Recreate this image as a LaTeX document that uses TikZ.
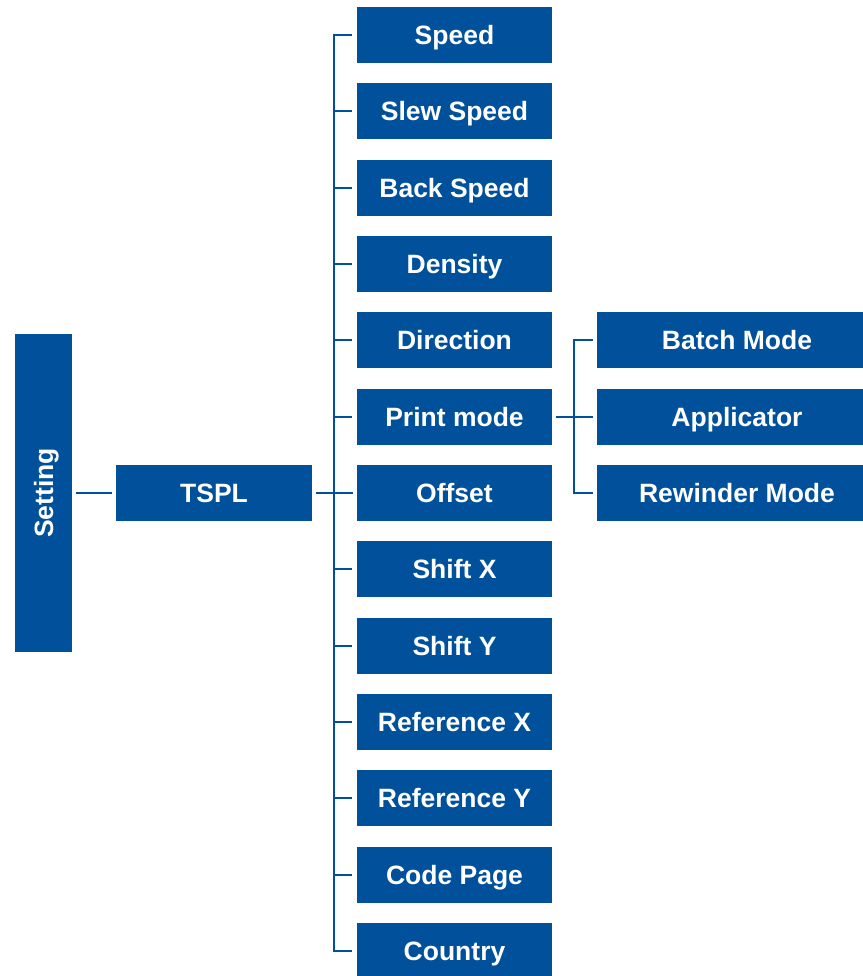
\documentclass[tikz,border=0pt]{standalone}
\usepackage{fontspec}
\setmainfont{Liberation Sans}
\usetikzlibrary{positioning,calc}

\definecolor{tscblue}{RGB}{0,80,155}

\begin{document}
\begin{tikzpicture}[x=1pt,y=-1pt,
  box/.style={fill=tscblue, text=white, font=\fontsize{26.5}{30}\bfseries\selectfont,
    minimum width=195pt, minimum height=56pt, inner sep=0pt, text height=19pt, text depth=0pt},
  wide/.style={box, minimum width=280pt},
  wire/.style={draw=tscblue, line width=2.2pt}]

\useasboundingbox (0,0) rectangle (862,976);

\node[box, minimum width=318pt, minimum height=57pt, rotate=90] (setting) at (43.5,493) {Setting};
\node[box, minimum width=196pt] (tspl) at (214,493) {TSPL};

\node[box] (speed) at (454.5,35) {Speed};
\node[box] (slew) at (454.5,111.33) {Slew Speed};
\node[box] (back) at (454.5,187.67) {Back Speed};
\node[box] (density) at (454.5,264) {Density};
\node[box] (direction) at (454.5,340.33) {Direction};
\node[box] (print) at (454.5,416.67) {Print mode};
\node[box] (offset) at (454.5,493) {Offset};
\node[box] (shiftx) at (454.5,569.33) {Shift X};
\node[box] (shifty) at (454.5,645.67) {Shift Y};
\node[box] (refx) at (454.5,722) {Reference X};
\node[box] (refy) at (454.5,798.33) {Reference Y};
\node[box] (codepage) at (454.5,874.67) {Code Page};
\node[box] (country) at (454.5,951) {Country};

\node[wide] (batch) at (737,340.33) {Batch Mode};
\node[wide] (applicator) at (737,416.67) {Applicator};
\node[wide] (rewinder) at (737,493) {Rewinder Mode};

% setting -> tspl -> bus
\draw[wire] ([xshift=4pt]setting.south) -- ([xshift=-4pt]tspl.west);
\draw[wire] ([xshift=4pt]tspl.east) -- ([xshift=-4pt]offset.west);

% main bus
\draw[wire] ([xshift=-5pt]speed.west) -- ++(-18,0) |- ([xshift=-5pt]country.west);
\draw[wire] ([xshift=-5pt]slew.west) -- ++(-18,0);
\draw[wire] ([xshift=-5pt]back.west) -- ++(-18,0);
\draw[wire] ([xshift=-5pt]density.west) -- ++(-18,0);
\draw[wire] ([xshift=-5pt]direction.west) -- ++(-18,0);
\draw[wire] ([xshift=-5pt]print.west) -- ++(-18,0);
\draw[wire] ([xshift=-5pt]shiftx.west) -- ++(-18,0);
\draw[wire] ([xshift=-5pt]shifty.west) -- ++(-18,0);
\draw[wire] ([xshift=-5pt]refx.west) -- ++(-18,0);
\draw[wire] ([xshift=-5pt]refy.west) -- ++(-18,0);
\draw[wire] ([xshift=-5pt]codepage.west) -- ++(-18,0);

% print mode sub-bus
\draw[wire] ([xshift=4pt]print.east) -- ([xshift=-4pt]applicator.west);
\draw[wire] ([xshift=-4pt]batch.west) -- ++(-19,0) |- ([xshift=-4pt]rewinder.west);
\end{tikzpicture}
\end{document}
